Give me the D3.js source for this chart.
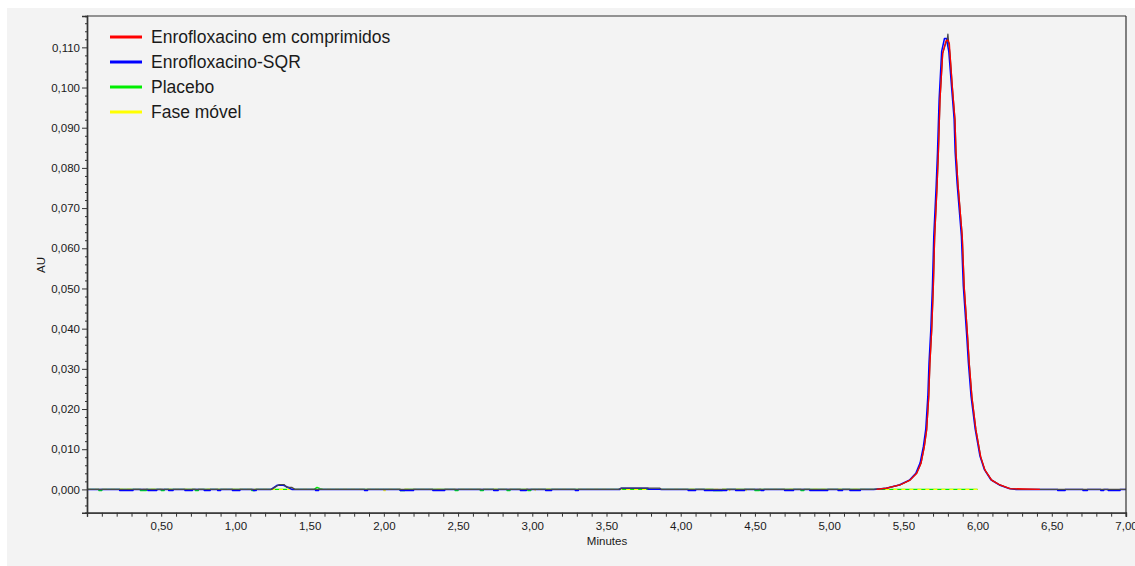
<!DOCTYPE html>
<html>
<head>
<meta charset="utf-8">
<script src="https://cdn.jsdelivr.net/npm/d3@7"></script>
<style>
  html, body { margin: 0; padding: 0; background: #ffffff; }
  svg { display: block; }
  text { font-family: "Liberation Sans", Arial, sans-serif; fill: #1a1a1a; }
</style>
</head>
<body>
<svg id="chart" width="1135" height="566"></svg>
<script>
// ---- Series labels and axis text ----
const seriesNames = ["Enrofloxacino em comprimidos", "Enrofloxacino-SQR", "Placebo", "Fase móvel"];
const xTickLabels = ["0,50", "1,00", "1,50", "2,00", "2,50", "3,00", "3,50", "4,00", "4,50", "5,00", "5,50", "6,00", "6,50", "7,00"];
const yTickLabels = ["0,000", "0,010", "0,020", "0,030", "0,040", "0,050", "0,060", "0,070", "0,080", "0,090", "0,100", "0,110"];
const xTitle = "Minutes";
const yTitle = "AU";

// ---- Enrofloxacino em comprimidos (red) ----
const comprimidosMin = [5.32, 5.388, 5.477, 5.545, 5.590, 5.619, 5.641, 5.657, 5.671, 5.679, 5.691, 5.702, 5.711, 5.727, 5.736, 5.747, 5.765, 5.787, 5.799, 5.810, 5.814, 5.830, 5.848, 5.855, 5.868, 5.897, 5.910, 5.933, 5.944, 5.962, 5.989, 6.021, 6.050, 6.095, 6.151, 6.218, 6.42];
const comprimidosAU = [0, 0.0003, 0.0011, 0.0023, 0.0040, 0.0065, 0.0106, 0.0148, 0.0230, 0.0314, 0.0396, 0.0504, 0.0629, 0.0753, 0.0837, 0.0969, 0.1085, 0.1116, 0.1118, 0.1110, 0.1085, 0.1002, 0.0919, 0.0837, 0.0760, 0.0629, 0.0504, 0.0380, 0.0314, 0.0230, 0.0148, 0.0081, 0.0048, 0.0023, 0.0011, 0.0002, 0];

// ---- Enrofloxacino-SQR (blue) ----
const sqrMin = [0, 0.22, 0.22, 0.31, 0.31, 0.41, 0.41, 0.47, 0.47, 0.55, 0.55, 0.58, 0.58, 0.66, 0.66, 0.71, 0.71, 0.79, 0.79, 0.83, 0.83, 0.88, 0.88, 0.90, 0.90, 0.98, 0.98, 1.03, 1.03, 1.12, 1.12, 1.14, 1.14,
  1.24, 1.28, 1.32, 1.36, 1.38, 1.54, 1.54, 1.56, 1.56, 1.87, 1.87, 1.89, 1.89, 2.11, 2.11, 2.20, 2.20, 2.33, 2.33, 2.41, 2.41, 2.74, 2.74, 2.77, 2.77, 2.92, 2.92, 2.96, 2.96, 3.09, 3.09, 3.13, 3.13, 3.29, 3.29, 3.31, 3.31,
  3.59, 3.60, 3.78, 3.78, 3.86, 3.87, 4.05, 4.05, 4.10, 4.10, 4.16, 4.16, 4.31, 4.31, 4.37, 4.37, 4.43, 4.43, 4.54, 4.54, 4.56, 4.56, 4.70, 4.70, 4.76, 4.76, 4.87, 4.87, 4.99, 4.99, 5.06, 5.06, 5.09, 5.09, 5.14, 5.14, 5.21, 5.21,
  5.30, 5.383, 5.472, 5.540, 5.584, 5.613, 5.635, 5.651, 5.665, 5.673, 5.685, 5.696, 5.705, 5.721, 5.730, 5.741, 5.758, 5.777, 5.790, 5.806, 5.824, 5.842, 5.849, 5.862, 5.891, 5.904, 5.927, 5.938, 5.956, 5.984, 6.016, 6.045, 6.090, 6.146, 6.213, 6.26,
  6.54, 6.54, 6.59, 6.59, 6.71, 6.71, 6.74, 6.74, 6.83, 6.83, 6.85, 6.85, 6.88, 6.88, 6.96, 6.96, 7.0];
const sqrAU = [0, 0, -0.0003, -0.0003, 0, 0, -0.0003, -0.0003, 0, 0, -0.0003, -0.0003, 0, 0, -0.0003, -0.0003, 0, 0, -0.0003, -0.0003, 0, 0, -0.0003, -0.0003, 0, 0, -0.0003, -0.0003, 0, 0, -0.0003, -0.0003, 0,
  0, 0.0010, 0.0011, 0.0004, 0, 0, -0.0003, -0.0003, 0, 0, -0.0003, -0.0003, 0, 0, -0.0003, -0.0003, 0, 0, -0.0003, -0.0003, 0, 0, -0.0003, -0.0003, 0, 0, -0.0003, -0.0003, 0, 0, -0.0003, -0.0003, 0, 0, -0.0003, -0.0003, 0,
  0, 0.0003, 0.0003, 0.00005, 0.00005, 0, 0, -0.0003, -0.0003, 0, 0, -0.0003, -0.0003, 0, 0, -0.0003, -0.0003, 0, 0, -0.0003, -0.0003, 0, 0, -0.0003, -0.0003, 0, 0, -0.0003, -0.0003, 0, 0, -0.0003, -0.0003, 0, 0, -0.0003, -0.0003, 0,
  0, 0.0003, 0.0011, 0.0023, 0.0040, 0.0066, 0.0107, 0.0150, 0.0232, 0.0316, 0.0398, 0.0506, 0.0631, 0.0755, 0.0839, 0.0971, 0.1090, 0.1122, 0.1122, 0.1090, 0.1005, 0.0921, 0.0839, 0.0762, 0.0631, 0.0506, 0.0382, 0.0316, 0.0232, 0.0150, 0.0083, 0.0050, 0.0024, 0.0011, 0.0002, 0,
  0, -0.0003, -0.0003, 0, 0, -0.0003, -0.0003, 0, 0, -0.0003, -0.0003, 0, 0, -0.0003, -0.0003, 0, 0];

// ---- Placebo (green) ----
const placeboMin = [0, 0.08, 0.08, 0.10, 0.10, 0.36, 0.36, 0.40, 0.40, 0.50, 0.50, 0.52, 0.52, 0.73, 0.73, 0.75, 0.75, 1.11, 1.11, 1.13, 1.13, 1.53, 1.55, 1.57, 1.59,
  2.11, 2.11, 2.14, 2.14, 2.48, 2.48, 2.50, 2.50, 2.65, 2.65, 2.67, 2.67, 2.83, 2.83, 2.85, 2.85, 2.97, 2.97, 2.99, 2.99, 4.22, 4.22, 4.28, 4.28, 4.50, 4.50, 4.53, 4.53, 4.81, 4.81, 4.83, 4.83, 6.00];
const placeboAU = [0, 0, -0.0003, -0.0003, 0, 0, -0.0003, -0.0003, 0, 0, -0.0003, -0.0003, 0, 0, -0.0003, -0.0003, 0, 0, -0.0003, -0.0003, 0, 0, 0.0005, 0.0002, 0,
  0, -0.0003, -0.0003, 0, 0, -0.0003, -0.0003, 0, 0, -0.0003, -0.0003, 0, 0, -0.0003, -0.0003, 0, 0, -0.0003, -0.0003, 0, 0, -0.0003, -0.0003, 0, 0, -0.0003, -0.0003, 0, 0, -0.0003, -0.0003, 0, 0];

// ---- Fase móvel (yellow) ----
const faseMin = [0, 2.00, 2.00, 2.02, 2.02, 3.02, 3.02, 3.04, 3.04, 4.31, 4.31, 4.33, 4.33, 4.44, 4.44, 4.46, 4.46, 6.00];
const faseAU = [0, 0, -0.0003, -0.0003, 0, 0, -0.0003, -0.0003, 0, 0, -0.0003, -0.0003, 0, 0, -0.0003, -0.0003, 0, 0];

// ---- Overlay trace (dark grey) ----
const tracoMin = [0, 1.244, 1.296, 1.329, 1.345, 1.379, 1.401, 3.58, 3.60, 3.86, 3.87, 5.30, 5.388, 5.477, 5.545, 5.590, 5.619, 5.641, 5.657, 5.671, 5.679, 5.691, 5.702, 5.711, 5.727, 5.736, 5.747, 5.765, 5.787, 5.795, 5.800, 5.805, 5.814, 5.830, 5.848, 5.855, 5.868, 5.897, 5.910, 5.933, 5.944, 5.962, 5.989, 6.021, 6.050, 6.095, 6.151, 6.218, 6.30, 7.0];
const tracoAU = [0, 0, 0.0012, 0.0012, 0.0005, 0.0005, 0, 0, 0.0003, 0.0003, 0, 0, 0.0003, 0.0011, 0.0023, 0.0040, 0.0065, 0.0106, 0.0148, 0.0230, 0.0314, 0.0396, 0.0504, 0.0629, 0.0753, 0.0837, 0.0969, 0.1085, 0.1112, 0.1116, 0.1133, 0.1112, 0.1085, 0.1002, 0.0919, 0.0837, 0.0760, 0.0629, 0.0504, 0.0380, 0.0314, 0.0230, 0.0148, 0.0081, 0.0048, 0.0023, 0.0011, 0.0002, 0, 0];

const seriesColors = ["#ff0000", "#0000ff", "#00ee00", "#ffff00"];

// ---- Layout ----
const svg = d3.select("#chart");
const W = 1135, H = 566;
const plot = { left: 87, right: 1126, top: 16, bottom: 512.7 };

// grey panel behind the whole chart
svg.append("rect").attr("x", 7).attr("y", 8).attr("width", W - 7).attr("height", H - 8).attr("fill", "#f3f3f3");

const x = d3.scaleLinear().domain([0, 7]).range([plot.left, plot.right]);
const y = d3.scaleLinear().domain([-0.0058, 0.1178]).range([plot.bottom, plot.top]);

const parseLabel = s => parseFloat(s.replace(",", "."));
const xMajor = xTickLabels.map(parseLabel);
const yMajor = yTickLabels.map(parseLabel);

// clip traces to the plotting frame
svg.append("clipPath").attr("id", "plotClip").append("rect")
  .attr("x", plot.left).attr("y", plot.top)
  .attr("width", plot.right - plot.left).attr("height", plot.bottom - plot.top);

const traces = svg.append("g").attr("clip-path", "url(#plotClip)");
const line = d3.line().x(d => x(d[0])).y(d => y(d[1]));
const zipPts = (t, v) => t.map((ti, i) => [ti, v[i]]);

function drawTrace(t, v, color, width, dash) {
  const p = traces.append("path")
    .datum(zipPts(t, v))
    .attr("fill", "none")
    .attr("stroke", color)
    .attr("stroke-width", width)
    .attr("stroke-linejoin", "round")
    .attr("d", line);
  if (dash) p.attr("stroke-dasharray", dash);
}

// drawing order: placebo, mobile phase, standard, overlay, tablets
drawTrace(placeboMin, placeboAU, seriesColors[2], 1.4);
drawTrace(faseMin, faseAU, seriesColors[3], 1.4, "4,4");
drawTrace(sqrMin, sqrAU, seriesColors[1], 1.5);
drawTrace(tracoMin, tracoAU, "#4a4a4a", 1.3);
drawTrace(comprimidosMin, comprimidosAU, seriesColors[0], 1.3);

// ---- Frame ----
const frame = svg.append("g").attr("stroke", "#333").attr("stroke-width", 1.2).attr("fill", "none");
frame.append("line").attr("x1", plot.left).attr("x2", plot.right).attr("y1", plot.top).attr("y2", plot.top);
frame.append("line").attr("x1", plot.right).attr("x2", plot.right).attr("y1", plot.top).attr("y2", plot.bottom + 4);

// ---- X axis ----
const xMinor = d3.range(1, 71).map(i => i / 10).filter(v => !xMajor.some(m => Math.abs(m - v) < 1e-9));
const gxMinor = svg.append("g").attr("transform", `translate(0,${plot.bottom})`)
  .call(d3.axisBottom(x).tickValues(xMinor).tickSize(4).tickFormat(""));
const gx = svg.append("g").attr("transform", `translate(0,${plot.bottom})`)
  .call(d3.axisBottom(x).tickValues(xMajor).tickSize(4).tickPadding(5).tickFormat((d, i) => xTickLabels[i]));
[gx, gxMinor].forEach(g => {
  g.select(".domain").attr("stroke", "#333").attr("stroke-width", 1.2);
  g.selectAll(".tick line").attr("stroke", "#333").attr("stroke-width", 1);
});
gx.selectAll(".tick text").style("font-size", "11.5px").style("font-family", "'Liberation Sans', Arial, sans-serif").attr("fill", "#111");

// ---- Y axis ----
const yMinor = d3.range(-2, 59).map(i => i * 0.002).filter(v => !yMajor.some(m => Math.abs(m - v) < 1e-9));
const gyMinor = svg.append("g").attr("transform", `translate(${plot.left},0)`)
  .call(d3.axisLeft(y).tickValues(yMinor).tickSize(2).tickFormat(""));
const gy = svg.append("g").attr("transform", `translate(${plot.left},0)`)
  .call(d3.axisLeft(y).tickValues(yMajor).tickSize(5).tickPadding(2).tickFormat((d, i) => yTickLabels[i]));
[gy, gyMinor].forEach(g => {
  g.select(".domain").attr("stroke", "#333").attr("stroke-width", 1.4);
  g.selectAll(".tick line").attr("stroke", "#333").attr("stroke-width", 1);
});
gy.selectAll(".tick text").style("font-size", "11.5px").style("font-family", "'Liberation Sans', Arial, sans-serif").attr("fill", "#111");

// ---- Axis titles ----
svg.append("text").attr("x", 607).attr("y", 545).attr("text-anchor", "middle")
  .style("font-size", "11.5px").text(xTitle);
svg.append("text").attr("transform", "translate(45,265) rotate(-90)").attr("text-anchor", "middle")
  .style("font-size", "11.5px").text(yTitle);

// ---- Legend ----
const legend = svg.append("g");
seriesNames.forEach((name, i) => {
  const ly = 37 + i * 25;
  legend.append("line").attr("x1", 110).attr("x2", 142).attr("y1", ly).attr("y2", ly)
    .attr("stroke", seriesColors[i]).attr("stroke-width", 3);
  legend.append("text").attr("x", 151).attr("y", ly + 6)
    .style("font-size", "17.5px").text(name);
});
</script>
</body>
</html>
